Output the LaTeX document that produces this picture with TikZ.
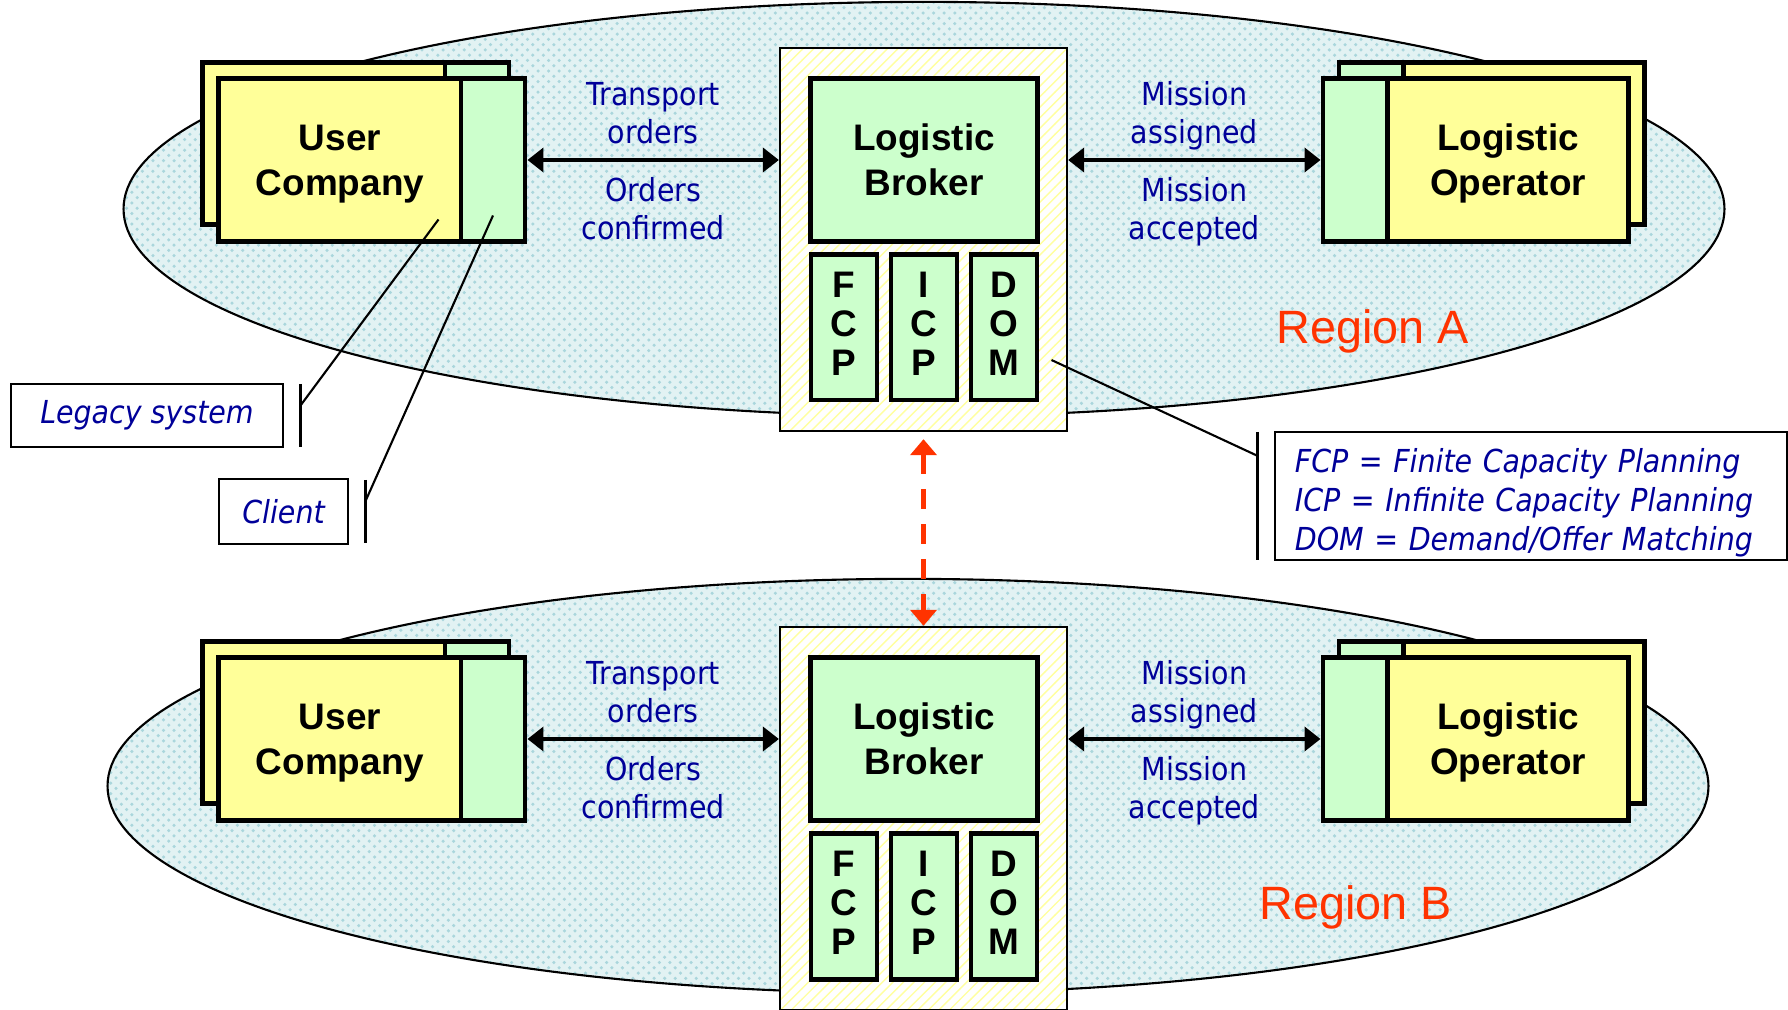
\documentclass[tikz,border=0pt]{standalone}
\usepackage{fontspec}
\setmainfont{Liberation Sans}
\newfontfamily\msgfont[FakeStretch=0.9]{DejaVu Sans}
\usetikzlibrary{positioning,arrows.meta,patterns}
\definecolor{regionfill}{RGB}{226,242,243}
\definecolor{regiondots}{RGB}{170,214,220}
\definecolor{pastelyellow}{RGB}{255,255,153}
\definecolor{pastelgreen}{RGB}{204,255,204}
\definecolor{stripe}{RGB}{255,255,160}
\definecolor{msgblue}{RGB}{0,0,153}
\definecolor{regionred}{RGB}{255,51,0}

\begin{document}
\begin{tikzpicture}[x=0.01cm, y=-0.01cm,
    region/.style={draw, line width=0.6pt, preaction={fill=regionfill}, pattern=crosshatch dots, pattern color=regiondots},
    hub/.style={draw, line width=0.6pt, preaction={fill=white}, pattern=north east lines, pattern color=stripe, minimum width=2.87cm, minimum height=3.83cm},
    ybox/.style={draw, line width=1.4pt, fill=pastelyellow, inner sep=0pt, minimum height=1.62cm, align=center, text depth=0pt, font=\bfseries\fontsize{10.5}{12.8}\selectfont},
    gbox/.style={ybox, fill=pastelgreen},
    part/.style={gbox, minimum width=0.66cm, minimum height=1.45cm, text depth=2pt, font=\bfseries\fontsize{10.5}{11.1}\selectfont},
    msg/.style={font=\msgfont\fontsize{9}{10.8}\selectfont, text=msgblue, align=center},
    note/.style={draw, line width=0.6pt, font=\msgfont\itshape\fontsize{9}{11.1}\selectfont, text=msgblue},
    flow/.style={line width=1.1pt, {Triangle[length=1.6mm,width=2.4mm]}-{Triangle[length=1.6mm,width=2.4mm]}},
    link/.style={regionred, line width=1.4pt, dash pattern=on 2mm off 1.5mm, {Triangle[length=1.6mm,width=2.6mm]}-{Triangle[length=1.6mm,width=2.6mm]}},
    tag/.style={font=\fontsize{13.3}{16}\selectfont, text=regionred}]
    \useasboundingbox (0,0) rectangle (1788,1010);
    \draw[region] (924,209) ellipse [x radius=8cm, y radius=2.07cm];
    \draw[region] (908,786) ellipse [x radius=8cm, y radius=2.07cm];
    \node[tag] (tagA) at (1373,331) {Region A};
    \node[tag] (tagB) at (1356,907) {Region B};

    \node[hub] (boxA) at (923.5,239.5) {};
    \node[gbox, minimum width=2.26cm] (brokA) at (924,160) {Logistic\\Broker};
    \node[part] (fcpA) at (844,327.5) {F\\C\\P};
    \node[part] (icpA) at (924,327.5) {I\\C\\P};
    \node[part] (domA) at (1004,327.5) {D\\O\\M};
    \node[ybox, minimum width=2.42cm] (ucAback) at (324,143.5) {};
    \node[gbox, minimum width=0.64cm] (ucAbackg) at (477,143.5) {};
    \node[ybox, minimum width=2.42cm] (ucA) at (340,160) {User\\Company};
    \node[gbox, minimum width=0.64cm] (ucAg) at (493,160) {};
    \node[gbox, minimum width=0.65cm] (loAbackg) at (1371.5,143.5) {};
    \node[ybox, minimum width=2.40cm] (loAback) at (1524,143.5) {};
    \node[gbox, minimum width=0.65cm] (loAg) at (1355.5,160) {};
    \node[ybox, minimum width=2.40cm] (loA) at (1508,160) {Logistic\\Operator};

    \node[hub] (boxB) at (923.5,818.5) {};
    \node[gbox, minimum width=2.26cm] (brokB) at (924,739) {Logistic\\Broker};
    \node[part] (fcpB) at (844,906.5) {F\\C\\P};
    \node[part] (icpB) at (924,906.5) {I\\C\\P};
    \node[part] (domB) at (1004,906.5) {D\\O\\M};
    \node[ybox, minimum width=2.42cm] (ucBback) at (324,722.5) {};
    \node[gbox, minimum width=0.64cm] (ucBbackg) at (477,722.5) {};
    \node[ybox, minimum width=2.42cm] (ucB) at (340,739) {User\\Company};
    \node[gbox, minimum width=0.64cm] (ucBg) at (493,739) {};
    \node[gbox, minimum width=0.65cm] (loBbackg) at (1371.5,722.5) {};
    \node[ybox, minimum width=2.40cm] (loBback) at (1524,722.5) {};
    \node[gbox, minimum width=0.65cm] (loBg) at (1355.5,739) {};
    \node[ybox, minimum width=2.40cm] (loB) at (1508,739) {Logistic\\Operator};

    \draw[flow] (ucAg.east) -- (ucAg.east -| boxA.west)
        node[msg, midway, yshift=0.47cm] {Transport\\orders}
        node[msg, midway, yshift=-0.49cm] {Orders\\confirmed};
    \draw[flow] (boxA.east |- loAg.west) -- (loAg.west)
        node[msg, midway, yshift=0.44cm] {Mission\\assigned}
        node[msg, midway, yshift=-0.52cm] {Mission\\accepted};
    \draw[flow] (ucBg.east) -- (ucBg.east -| boxB.west)
        node[msg, midway, yshift=0.47cm] {Transport\\orders}
        node[msg, midway, yshift=-0.49cm] {Orders\\confirmed};
    \draw[flow] (boxB.east |- loBg.west) -- (loBg.west)
        node[msg, midway, yshift=0.44cm] {Mission\\assigned}
        node[msg, midway, yshift=-0.52cm] {Mission\\accepted};
    \draw[link, shorten <=0.07cm] (boxA.south) -- (boxB.north);

    \node[note, minimum width=2.72cm, minimum height=0.63cm] (legacy) at (147,415.5) {Legacy system};
    \node[note, minimum width=1.29cm, minimum height=0.65cm] (client) at (283.5,511.5) {Client};
    \node[note, text width=4.72cm, inner xsep=0.2cm, minimum height=1.28cm, align=left, text depth=20pt] (legend) at (1531,496)
        {FCP = Finite Capacity Planning\\ICP = Infinite Capacity Planning\\DOM = Demand/Offer Matching};
    \coordinate (legacy bar) at ([xshift=0.16cm]legacy.east);
    \coordinate (client bar) at ([xshift=0.16cm]client.east);
    \coordinate (legend bar) at ([xshift=-0.16cm]legend.west);
    \coordinate (ucA legacy) at ([xshift=-0.25cm, yshift=0.24cm]ucA.south east);
    \coordinate (ucA client) at ([yshift=0.28cm]ucAg.south);
    \coordinate (domA note) at ([xshift=0.12cm, yshift=-0.325cm]domA.east);
    \draw[line width=0.8pt] (legacy bar) ++(0,-31.5) -- ++(0,63);
    \draw[line width=0.8pt] (client bar) ++(0,-31.5) -- ++(0,63);
    \draw[line width=0.8pt] (legend bar) ++(0,-64) -- ++(0,128);
    \draw[line width=0.6pt] ([yshift=0.095cm]legacy bar) -- (ucA legacy);
    \draw[line width=0.6pt] ([yshift=0.095cm]client bar) -- (ucA client);
    \draw[line width=0.6pt] ([yshift=0.40cm]legend bar) -- (domA note);
\end{tikzpicture}
\end{document}
